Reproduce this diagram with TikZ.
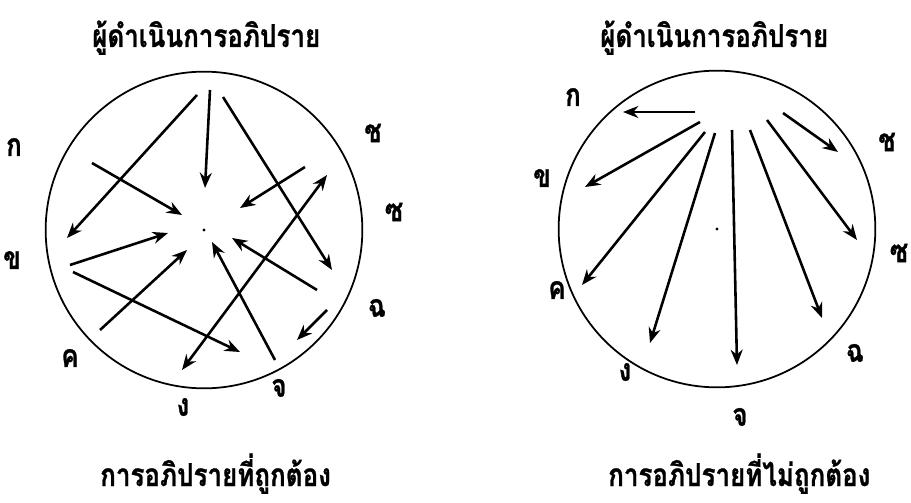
\documentclass[tikz,border=0pt]{standalone}
\usepackage{fontspec}
\newfontfamily\thaifont[Script=Thai, FakeStretch=0.82, FakeBold=0.8]{Loma}
\usetikzlibrary{arrows.meta}

\begin{document}
\begin{tikzpicture}[
  x=0.03cm, y=-0.03cm,
  font=\thaifont\bfseries\fontsize{27}{30}\selectfont,
  >={Stealth[length=4.6mm,width=3.6mm,inset=1.5mm]},
  ring/.style={draw, circle, line width=1.5pt, minimum size=9.5cm, inner sep=0pt},
  arr/.style={->, line width=2.2pt},
  twoway/.style={<->, line width=2.2pt},
  who/.style={inner sep=1pt}
]
\useasboundingbox (0,0) rectangle (911,503);

% left: correct discussion
\node[ring] (lring) at (204,230) {};
\fill (lring.center) circle (1.4pt);
\node[anchor=base west, inner sep=0pt] (ltop) at (92,47) {ผู้ดำเนินการอภิปราย};
\node[anchor=base west, inner sep=0pt] (lbot) at (100,486) {การอภิปรายที่ถูกต้อง};
\node[who] (lk1) at (14,147) {ก};
\node[who] (lk2) at (12,260) {ข};
\node[who] (lk3) at (70,358) {ค};
\node[who] (lk4) at (183,407) {ง};
\node[who] (lk5) at (279,388) {จ};
\node[who] (lk6) at (377,308) {ฉ};
\node[who] (lk7) at (394,212) {ซ};
\node[who] (lk8) at (373,133) {ช};

\coordinate (l1a) at (197,95);  \coordinate (l1b) at (67,238);
\coordinate (l2a) at (210,90);  \coordinate (l2b) at (205,188);
\coordinate (l3a) at (92,163);  \coordinate (l3b) at (182,215);
\coordinate (l4a) at (70,265);  \coordinate (l4b) at (168,233);
\coordinate (l5a) at (73,272);  \coordinate (l5b) at (240,352);
\coordinate (l6a) at (100,330); \coordinate (l6b) at (187,250);
\coordinate (l7a) at (223,97);  \coordinate (l7b) at (332,270);
\coordinate (l8a) at (305,167); \coordinate (l8b) at (240,208);
\coordinate (l9a) at (327,175); \coordinate (l9b) at (182,370);
\coordinate (l10a) at (317,290); \coordinate (l10b) at (232,238);
\coordinate (l11a) at (275,360); \coordinate (l11b) at (212,242);
\coordinate (l12a) at (327,310); \coordinate (l12b) at (297,340);
\draw[arr] (l1a) -- (l1b);
\draw[arr] (l2a) -- (l2b);
\draw[arr] (l3a) -- (l3b);
\draw[arr] (l4a) -- (l4b);
\draw[arr] (l5a) -- (l5b);
\draw[arr] (l6a) -- (l6b);
\draw[arr] (l7a) -- (l7b);
\draw[arr] (l8a) -- (l8b);
\draw[twoway] (l9a) -- (l9b);
\draw[arr] (l10a) -- (l10b);
\draw[arr] (l11a) -- (l11b);
\draw[arr] (l12a) -- (l12b);

% right: incorrect discussion
\node[ring] (rring) at (717,229) {};
\fill (rring.center) circle (1.4pt);
\node[anchor=base west, inner sep=0pt] (rtop) at (600,47) {ผู้ดำเนินการอภิปราย};
\node[anchor=base west, inner sep=0pt] (rbot) at (608,486) {การอภิปรายที่ไม่ถูกต้อง};
\node[who] (rk1) at (573,97) {ก};
\node[who] (rk2) at (542,178) {ข};
\node[who] (rk3) at (557,290) {ค};
\node[who] (rk4) at (625,372) {ง};
\node[who] (rk5) at (740,417) {จ};
\node[who] (rk6) at (855,353) {ฉ};
\node[who] (rk7) at (899,253) {ซ};
\node[who] (rk8) at (887,142) {ช};

\coordinate (r1a) at (695,112); \coordinate (r1b) at (623,112);
\coordinate (r2a) at (700,122); \coordinate (r2b) at (585,187);
\coordinate (r3a) at (705,132); \coordinate (r3b) at (582,285);
\coordinate (r4a) at (715,133); \coordinate (r4b) at (650,343);
\coordinate (r5a) at (732,130); \coordinate (r5b) at (737,365);
\coordinate (r6a) at (750,130); \coordinate (r6b) at (822,318);
\coordinate (r7a) at (767,120); \coordinate (r7b) at (857,240);
\coordinate (r8a) at (783,113); \coordinate (r8b) at (838,152);
\draw[arr] (r1a) -- (r1b);
\draw[arr] (r2a) -- (r2b);
\draw[arr] (r3a) -- (r3b);
\draw[arr] (r4a) -- (r4b);
\draw[arr] (r5a) -- (r5b);
\draw[arr] (r6a) -- (r6b);
\draw[arr] (r7a) -- (r7b);
\draw[arr] (r8a) -- (r8b);
\end{tikzpicture}
\end{document}
